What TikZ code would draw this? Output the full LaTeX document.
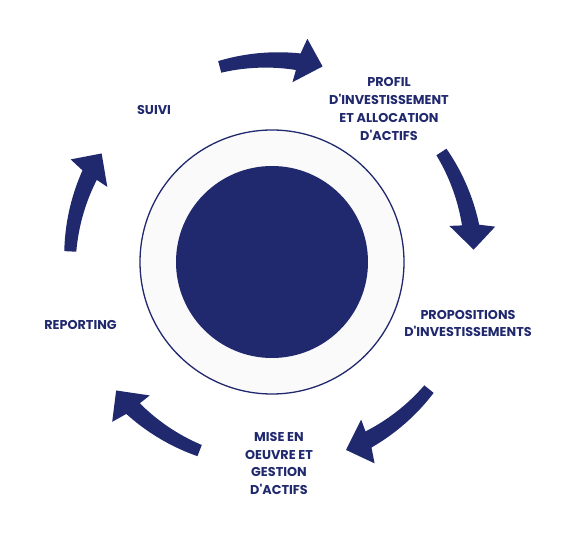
\documentclass[tikz,border=0pt]{standalone}
\usepackage{fontspec}
\setmainfont{Poppins Bold}[Ligatures=TeXOff]
\definecolor{navy}{RGB}{33,41,110}
\definecolor{ringfill}{RGB}{250,250,250}
\begin{document}
\begin{tikzpicture}[x=1pt,y=1pt,
  lbl/.style={text=navy, font=\fontsize{12.8}{17.8}\selectfont, align=center, inner sep=0pt},
  cyclearrow/.style={fill=navy}]
\useasboundingbox (0,0) rectangle (567,538);
\begin{scope}[shift={(272,276)}]
  \draw[navy, line width=1.3pt, fill=ringfill] (0,0) circle (132);
  \fill[navy] (0,0) circle (96);
  \foreach \k in {0,...,4}{
    \fill[cyclearrow, rotate=-72*\k]
      plot[domain=105:82.2, samples=30, variable=\t] ({\t}:{208+2.5*(105-\t)/22.8})
      -- (81:226) -- (75.5:202) -- (83.5:181)
      -- plot[domain=82.9:105, samples=30, variable=\t] ({\t}:{193.5+2.5*(\t-82.9)/22.1})
      -- cycle;
  }
\end{scope}
\node[lbl] (profil) at (389,429) {PROFIL\\D'INVESTISSEMENT\\ET ALLOCATION\\D'ACTIFS};
\node[lbl] (propo) at (468,214.5) {PROPOSITIONS\\D'INVESTISSEMENTS};
\node[lbl] (mise) at (279,74.5) {MISE EN\\OEUVRE ET\\GESTION\\D'ACTIFS};
\node[lbl] (report) at (80.5,213) {REPORTING};
\node[lbl] (suivi) at (154,428) {SUIVI};
\end{tikzpicture}
\end{document}
